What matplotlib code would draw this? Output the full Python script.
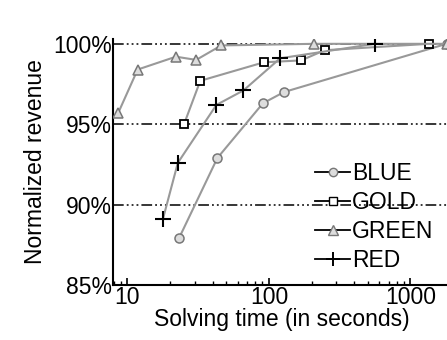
import numpy as np
import matplotlib
matplotlib.use("Agg")
import matplotlib.pyplot as plt
from matplotlib.lines import Line2D
from matplotlib.ticker import FixedLocator, FuncFormatter, LogLocator, NullFormatter

plt.rcParams['font.family'] = ['Liberation Sans', 'DejaVu Sans']

# valores
blue_x = [23.1, 43.2, 90.6, 127.7, 1800]
blue_y = [87.9, 92.9, 96.3, 97.0, 100.0]

gold_x = [25.1, 32.7, 92, 169, 247, 1344]
gold_y = [95.0, 97.7, 98.85, 98.97, 99.6, 100.0]

green_x = [8.6, 11.8, 22, 30.6, 46, 209, 1800]
green_y = [95.7, 98.4, 99.2, 99.0, 99.9, 100.0, 100.0]

red_x = [17.8, 22.7, 42.5, 66, 120, 560]
red_y = [89.1, 92.6, 96.2, 97.1, 99.1, 100.0]

labels = ["BLUE", "GOLD", "GREEN", "RED"]
y_ticks = [85, 90, 95, 100]

fs = 16.5

fig = plt.figure(figsize=(4.47, 3.40), dpi=100)
ax = fig.add_axes([113/447, 55/340, 1 - 113/447 + 0.01, 246/340])

dash = (0, (7, 2, 1.2, 2, 1.2, 2, 1.2, 2))
for yv in [90, 95, 100]:
    ax.axhline(yv, color="black", lw=1.1, linestyle=dash, zorder=1)

lc = "#999999"
ax.plot(blue_x, blue_y, color=lc, lw=1.5, marker="o", ms=6.5, mfc="#dddddd", mec="#777777", mew=1.1, zorder=3)
ax.plot(gold_x, gold_y, color=lc, lw=1.5, marker="s", ms=6, mfc="white", mec="black", mew=1.3, zorder=3)
ax.plot(green_x, green_y, color=lc, lw=1.5, marker="^", ms=7, mfc="#dddddd", mec="#777777", mew=1.1, zorder=3)
ax.plot(red_x, red_y, color=lc, lw=1.5, marker="+", ms=11, mec="black", mew=1.5, zorder=3)

ax.set_xscale("log")
ax.set_xlim(7.9, 1950)
ax.set_ylim(85, 100.3)
ax.set_yticks(y_ticks)
ax.yaxis.set_major_formatter(FuncFormatter(lambda v, p: "%d%%" % v))
ax.xaxis.set_major_locator(FixedLocator([10, 100, 1000]))
ax.xaxis.set_major_formatter(FuncFormatter(lambda v, p: "%d" % v))
ax.xaxis.set_minor_locator(LogLocator(base=10, subs=np.arange(2, 10)))
ax.xaxis.set_minor_formatter(NullFormatter())

ax.tick_params(axis="x", which="major", direction="in", length=5, width=1.2, labelsize=fs, pad=1)
ax.tick_params(axis="x", which="minor", direction="in", length=3, width=1)
ax.tick_params(axis="y", which="major", length=0, labelsize=fs, pad=1)

for s in ["top", "right"]:
    ax.spines[s].set_visible(False)
for s in ["left", "bottom"]:
    ax.spines[s].set_linewidth(1.5)

ax.set_xlabel("Solving time (in seconds)", fontsize=fs, labelpad=-1)
ax.set_ylabel("Normalized revenue", fontsize=fs, labelpad=4)

handles = [
    Line2D([], [], color="black", lw=1.3, marker="o", ms=6, mfc="#dddddd", mec="#777777"),
    Line2D([], [], color="black", lw=1.3, marker="s", ms=5.5, mfc="white", mec="black"),
    Line2D([], [], color="black", lw=1.3, marker="^", ms=7, mfc="#dddddd", mec="#777777"),
    Line2D([], [], color="black", lw=1.3, marker="+", ms=10, mec="black", mew=1.4),
]
ax.legend(handles, labels, loc="upper left", bbox_to_anchor=(304/447, 1 - 151/340),
          bbox_transform=fig.transFigure, frameon=False, fontsize=fs,
          handlelength=1.5, handletextpad=0.1, labelspacing=0.25, borderpad=0)

fig.savefig("out.png", dpi=100)
